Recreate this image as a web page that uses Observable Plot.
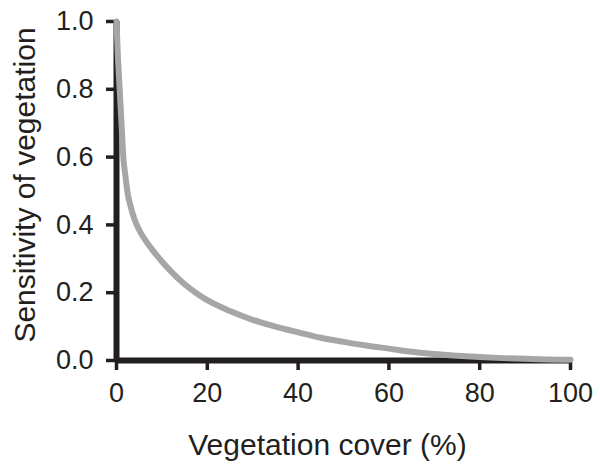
<!DOCTYPE html>
<html>
<head>
<meta charset="utf-8">
<script src="https://cdn.jsdelivr.net/npm/d3@7"></script>
<script src="https://cdn.jsdelivr.net/npm/@observablehq/plot@0.6"></script>
<style>
  html, body { margin: 0; padding: 0; background: #fff; }
  #chart { width: 600px; height: 467px; }
</style>
</head>
<body>
<div id="chart"></div>
<script>
const coverPct = [0, 0.3, 0.7, 1.1, 1.5, 2, 2.5, 3, 4, 5, 6, 8, 10, 12, 15, 18, 20, 25, 30, 35, 40, 45, 50, 55, 60, 65, 70, 75, 80, 85, 90, 95, 100];
const sensitivity = [1.0, 0.9, 0.8, 0.7, 0.6, 0.54, 0.49, 0.46, 0.415, 0.385, 0.362, 0.325, 0.292, 0.263, 0.225, 0.195, 0.178, 0.146, 0.12, 0.1, 0.083, 0.067, 0.055, 0.044, 0.035, 0.026, 0.019, 0.014, 0.01, 0.007, 0.005, 0.003, 0.002];
const xTicks = [0, 20, 40, 60, 80, 100];
const yTicks = [0, 0.2, 0.4, 0.6, 0.8, 1.0];
const xLabel = "Vegetation cover (%)";
const yLabel = "Sensitivity of vegetation";

const data = coverPct.map((x, i) => ({x, y: sensitivity[i]}));
const ink = "#231f20";

const chart = Plot.plot({
  width: 600,
  height: 467,
  marginLeft: 116,
  marginRight: 30,
  marginTop: 21,
  marginBottom: 107,
  style: {fontFamily: "'Liberation Sans', Arial, sans-serif", fontSize: "27px", color: ink, background: "#fff"},
  x: {domain: [0, 100]},
  y: {domain: [0, 1]},
  marks: [
    Plot.axisX({ticks: xTicks, tickSize: 10, tickPadding: 12, strokeWidth: 3.5, stroke: ink, fill: ink, fontSize: 27, label: null}),
    Plot.axisY({ticks: yTicks, tickSize: 10, tickPadding: 13, strokeWidth: 3.5, stroke: ink, fill: ink, fontSize: 27,
      tickFormat: d3.format(".1f"), label: null}),
    Plot.text([xLabel], {frameAnchor: "bottom", textAnchor: "middle", dx: -16, dy: 85, fontSize: 30, fill: ink, lineAnchor: "middle"}),
    Plot.text([yLabel], {frameAnchor: "left", textAnchor: "middle", rotate: -90, dx: -91, dy: -6, fontSize: 30, fill: ink, lineAnchor: "middle"}),
    Plot.ruleX([0], {y1: 0, y2: 1, stroke: ink, strokeWidth: 6}),
    Plot.ruleY([0], {x1: 0, x2: 100, stroke: ink, strokeWidth: 6}),
    Plot.line(data, {x: "x", y: "y", stroke: "#a6a6a6", strokeWidth: 6, curve: "monotone-x"})
  ]
});
document.getElementById("chart").appendChild(chart);
</script>
</body>
</html>
